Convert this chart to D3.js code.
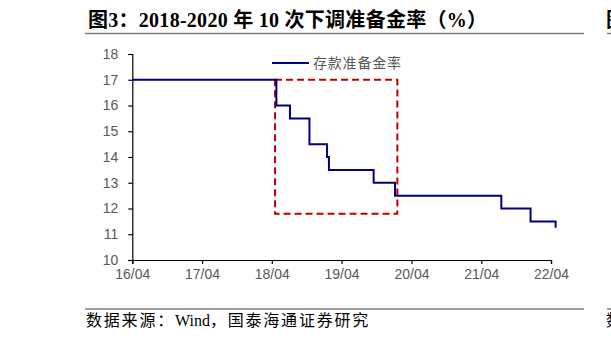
<!DOCTYPE html>
<html>
<head>
<meta charset="utf-8">
<script src="https://cdn.jsdelivr.net/npm/d3@7"></script>
<style>
  body { margin: 0; background: #fff; }
  svg { display: block; }
</style>
</head>
<body>
<div id="chart"></div>
<script>
// 存款准备金率 step series (date of change, new rate)
var rrrDates = ["2016-04-01", "2018-04-25", "2018-07-05", "2018-10-15", "2019-01-15", "2019-01-25",
                "2019-09-16", "2020-01-06", "2021-07-15", "2021-12-15", "2022-04-25"];
var rrrValues = [17, 16, 15.5, 14.5, 14, 13.5, 13, 12.5, 12, 11.5, 11.25];

var xTickDates = ["2016-04-01", "2017-04-01", "2018-04-01", "2019-04-01", "2020-04-01", "2021-04-01", "2022-04-01"];
var xTickLabels = ["16/04", "17/04", "18/04", "19/04", "20/04", "21/04", "22/04"];
var yTicks = [10, 11, 12, 13, 14, 15, 16, 17, 18];

// highlighted window (red dashed box)
var boxDates = ["2018-04-18", "2020-01-18"];
var boxValues = [11.8, 17];

var titleText = "图3：2018-2020 年 10 次下调准备金率（%）";
var sourceParts = ["数据来源：", "Wind", "，国泰海通证券研究"];
var seriesName = "存款准备金率";

var parse = d3.timeParse("%Y-%m-%d");
var width = 611, height = 342;
var margin = { top: 54, right: 60, bottom: 82, left: 132.3 };

var svg = d3.select("#chart")
  .append("svg")
  .attr("width", width)
  .attr("height", height);

svg.append("rect").attr("width", width).attr("height", height).attr("fill", "#fff");

var x = d3.scaleTime()
  .domain([parse(xTickDates[0]), parse(xTickDates[xTickDates.length - 1])])
  .range([margin.left, 551]);

var y = d3.scaleLinear()
  .domain([10, 18])
  .range([height - margin.bottom, margin.top]);

// title + rules
var serif = "'Liberation Serif', 'Times New Roman', 'Noto Sans CJK SC', serif";

svg.append("text")
  .attr("x", 88)
  .attr("y", 27)
  .attr("textLength", 399)
  .attr("lengthAdjust", "spacing")
  .style("font-family", serif)
  .style("font-weight", "bold")
  .style("font-size", "20px")
  .attr("fill", "#000")
  .text(titleText);

// start of the neighbouring panel, cut by the page edge
svg.append("text")
  .attr("x", 606)
  .attr("y", 27)
  .style("font-family", serif)
  .style("font-weight", "bold")
  .style("font-size", "20px")
  .attr("fill", "#000")
  .text("图4");

[[85, 584], [607, 640]].forEach(function(s) {
  svg.append("line").attr("x1", s[0]).attr("x2", s[1]).attr("y1", 33.5).attr("y2", 33.5)
    .attr("stroke", "#7f7f7f").attr("stroke-width", 1.5);
  svg.append("line").attr("x1", s[0]).attr("x2", s[1]).attr("y1", 309).attr("y2", 309)
    .attr("stroke", "#7f7f7f").attr("stroke-width", 1.5);
});

function sourceLine(x0) {
  var t = svg.append("text")
    .attr("x", x0)
    .attr("y", 326)
    .style("font-family", serif)
    .style("font-size", "16px")
    .attr("fill", "#000");
  sourceParts.forEach(function(p, i) {
    t.append("tspan")
      .style("letter-spacing", i === 1 ? "0px" : "1.8px")
      .text(p);
  });
}
sourceLine(86);
sourceLine(606);

// axes
var yAxis = svg.append("g")
  .attr("transform", "translate(" + margin.left + ",0)")
  .call(d3.axisLeft(y).tickValues(yTicks).tickSize(4).tickPadding(10).tickFormat(d3.format("d")));

var xAxis = svg.append("g")
  .attr("transform", "translate(0," + (height - margin.bottom) + ")")
  .call(d3.axisBottom(x).tickValues(xTickDates.map(parse)).tickSize(4).tickPadding(5)
    .tickFormat(function(d, i) { return xTickLabels[i]; }));

[xAxis, yAxis].forEach(function(g) {
  g.select(".domain").attr("stroke", "#000").attr("stroke-width", 1.2);
  g.selectAll(".tick line").attr("stroke", "#000").attr("stroke-width", 1.2);
  g.selectAll(".tick text")
    .attr("fill", "#595959")
    .style("font-family", "'Liberation Sans', Arial, sans-serif")
    .style("font-size", "14px");
});

// red dashed box
svg.append("rect")
  .attr("x", x(parse(boxDates[0])))
  .attr("y", y(boxValues[1]))
  .attr("width", x(parse(boxDates[1])) - x(parse(boxDates[0])))
  .attr("height", y(boxValues[0]) - y(boxValues[1]))
  .attr("fill", "none")
  .attr("stroke", "#c00000")
  .attr("stroke-width", 2)
  .attr("stroke-dasharray", "7,4");

// series
var data = rrrDates.map(function(d, i) { return { date: parse(d), value: rrrValues[i] }; });

var line = d3.line()
  .curve(d3.curveStepAfter)
  .x(function(d) { return x(d.date); })
  .y(function(d) { return y(d.value); });

svg.append("path")
  .datum(data)
  .attr("d", line)
  .attr("fill", "none")
  .attr("stroke", "#000080")
  .attr("stroke-width", 2);

// legend
var legend = svg.append("g").attr("transform", "translate(272,63)");
legend.append("line")
  .attr("x1", 0).attr("x2", 37)
  .attr("stroke", "#000080").attr("stroke-width", 2);
legend.append("text")
  .attr("x", 41)
  .attr("y", 5)
  .attr("textLength", 88)
  .attr("lengthAdjust", "spacing")
  .style("font-family", "'Noto Sans CJK SC', sans-serif")
  .style("font-size", "14px")
  .attr("fill", "#595959")
  .text(seriesName);
</script>
</body>
</html>
